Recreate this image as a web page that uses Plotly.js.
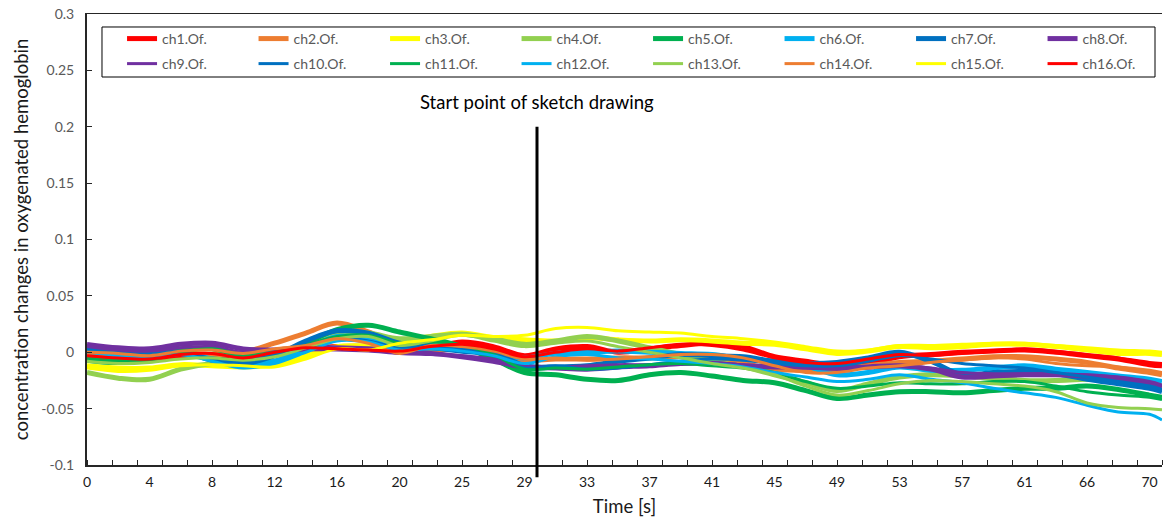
<!DOCTYPE html>
<html>
<head>
<meta charset="utf-8">
<script src="https://cdn.plot.ly/plotly-3.0.1.min.js"></script>
<style>html,body{margin:0;padding:0;background:#fff;}#chart{width:1163px;height:517px;}</style>
</head>
<body>
<div id="chart"></div>
<script>
// sample positions (category index of the Excel time axis; 0..86)
const sampleIdx = [0,2.5,5,7.5,10,12.5,15,17.5,20,22.5,25,27.5,30,32.5,35,37.5,40,42.5,45,47.5,50,52.5,55,57.5,60,62.5,65,67.5,70,72.5,75,77.5,80,82.5,85,86];
// category tick labels (seconds)
const tickIdx = [0,5,10,15,20,25,30,35,40,45,50,55,60,65,70,75,80,85];
const tickLabels = ['0','4','8','12','16','20','25','29','33','37','41','45','49','53','57','61','66','70'];
const sketchStartIdx = 36;
const sketchLabel = 'Start point of sketch drawing';

const yTickVals = [-0.1,-0.05,0,0.05,0.1,0.15,0.2,0.25,0.3];
const yTickText = ['-0.1','-0.05','0','0.05','0.1','0.15','0.2','0.25','0.3'];

const names = ['ch1.Of.','ch2.Of.','ch3.Of.','ch4.Of.','ch5.Of.','ch6.Of.','ch7.Of.','ch8.Of.',
               'ch9.Of.','ch10.Of.','ch11.Of.','ch12.Of.','ch13.Of.','ch14.Of.','ch15.Of.','ch16.Of.'];
const colors = ['#FF0000','#ED7D31','#FFFF00','#92D050','#00B050','#00B0F0','#0070C0','#7030A0',
                '#7030A0','#0070C0','#00B050','#00B0F0','#92D050','#ED7D31','#FFFF00','#FF0000'];

// values in units of 0.001
const ch1  = [-5,-7,-7,-3,-4,-8,-3,3,5,5,0,4,9,5,-3,3,5,0,3,6,8,5,-4,-8,-12,-10,-4,-2,0,1,2,0,-3,-6,-11,-12];
const ch2  = [-2,-3,-1,0,-2,0,8,17,26,18,6,0,5,-3,-7,-6,-6,-5,-5,-4,-6,-10,-15,-16,-15,-12,-9,-8,-6,-4,-4,-6,-9,-14,-18,-20];
const ch3  = [-12,-14,-14,-11,-12,-13,-11,-3,5,6,9,14,17,13,11,10,13,11,10,11,10,8,7,3,-1,1,5,4,5,7,7,5,2,-1,-1,-2];
const ch4  = [-18,-23,-24,-15,-10,-9,-8,3,17,17,12,14,16,12,7,10,14,10,4,-2,-8,-13,-20,-27,-34,-28,-22,-20,-21,-23,-25,-25,-24,-25,-28,-30];
const ch5  = [-7,-9,-4,3,3,-3,-2,8,20,24,18,12,5,-6,-18,-20,-24,-25,-20,-18,-21,-25,-27,-34,-41,-38,-35,-35,-36,-34,-32,-32,-30,-33,-38,-40];
const ch6  = [2,-2,-4,-1,-6,-12,-8,3,14,12,5,4,3,-1,-5,-1,0,1,0,-1,-2,-6,-8,-12,-20,-18,-13,-16,-16,-14,-12,-15,-18,-21,-24,-26];
const ch7  = [3,1,-2,0,-7,-10,-3,10,19,17,8,6,2,0,-12,-13,-12,-8,-5,-2,-3,-4,-8,-10,-9,-5,0,-8,-20,-18,-17,-19,-24,-28,-32,-35];
const ch8  = [7,4,3,7,8,3,2,4,4,3,1,-1,-4,-8,-13,-14,-15,-13,-12,-10,-10,-12,-13,-13,-14,-13,-12,-15,-22,-21,-20,-20,-21,-23,-28,-31];
const ch9  = [5,2,1,4,5,0,1,2,2,1,-1,-2,-3,-6,-12,-13,-12,-11,-11,-10,-9,-11,-12,-14,-15,-14,-12,-14,-18,-19,-19,-19,-20,-22,-26,-29];
const ch10 = [1,-1,-3,-2,-5,-7,-2,6,13,10,4,3,0,-3,-14,-12,-15,-14,-11,-8,-6,-7,-10,-12,-12,-8,-3,-6,-10,-12,-14,-18,-22,-26,-30,-33];
const ch11 = [-4,-6,-7,0,3,-2,0,6,14,15,8,9,6,-2,-15,-14,-15,-13,-11,-10,-12,-14,-18,-26,-32,-30,-27,-28,-28,-26,-26,-30,-35,-38,-40,-42];
const ch12 = [0,-3,-5,-2,-8,-14,-10,0,10,9,2,3,1,-3,-10,-4,-2,-5,-6,-8,-10,-13,-18,-22,-26,-24,-20,-24,-27,-32,-36,-40,-47,-53,-55,-60];
const ch13 = [-8,-10,-9,-6,-5,-7,-4,4,12,14,6,10,15,10,5,8,10,5,0,-5,-10,-14,-20,-30,-38,-34,-28,-25,-26,-28,-30,-35,-45,-49,-50,-51];
const ch14 = [0,-1,-3,1,2,-1,3,6,12,8,-1,6,5,1,-6,-5,-7,-6,-4,-2,-2,-5,-12,-18,-18,-14,-12,-9,-7,-5,-6,-10,-12,-13,-16,-18];
const ch15 = [-14,-17,-16,-12,-11,-12,-13,-6,3,2,8,11,15,14,15,21,22,19,18,17,14,12,9,5,1,2,6,6,7,8,8,6,4,2,1,0];
const ch16 = [-3,-5,-6,-2,-1,-5,0,4,3,2,1,5,7,3,-4,0,3,1,4,7,6,2,-5,-9,-10,-6,-2,-3,-1,1,3,1,-2,-5,-9,-10];

const series = [ch1,ch2,ch3,ch4,ch5,ch6,ch7,ch8,ch9,ch10,ch11,ch12,ch13,ch14,ch15,ch16];
const widths = [5,5,5,5,5,5,5,5,3,3,3,3,3,3,3,3];

const traces = series.map((s,i)=>{
  const t = {
    type:'scatter', mode:'lines', name:names[i],
    x: sampleIdx, y: s.map(v=>v/1000),
    line:{color:colors[i], width:widths[i], shape:'spline', smoothing:1.0},
    hoverinfo:'skip',
    legend: i < 8 ? 'legend' : 'legend2'
  };
  if (i === 7 || i === 15) t.legendwidth = 60;
  return t;
});

const font = 'Lato, "Open Sans", sans-serif';
const legendBase = {
  orientation:'h', xanchor:'left', yanchor:'middle',
  borderwidth:0, bgcolor:'rgba(0,0,0,0)',
  entrywidth:86.5, entrywidthmode:'pixels',
  font:{family:font, size:14, color:'#595959'},
  traceorder:'normal'
};
const layout = {
  width:1163, height:517,
  margin:{l:87, r:1, t:14, b:52},
  paper_bgcolor:'#fff', plot_bgcolor:'#fff',
  font:{family:font, size:14, color:'#595959'},
  showlegend:true,
  legend: Object.assign({}, legendBase, {x:0.0326, y:0.9446}),
  legend2: Object.assign({}, legendBase, {x:0.0326, y:0.8891}),
  xaxis:{
    range:[0,86], showgrid:false, zeroline:false,
    showline:true, linecolor:'#262626', linewidth:1.5, mirror:true,
    tickmode:'array', tickvals:tickIdx, ticktext:tickLabels,
    ticks:'outside', ticklen:0, ticklabelstandoff:4,
    tickfont:{family:font, size:14, color:'#1a1a1a'},
    minor:{ticks:'inside', tick0:0, dtick:2, ticklen:5, tickwidth:1, tickcolor:'#262626', showgrid:false},
    title:{text:'Time [s]', font:{family:font, size:18.5, color:'#1a1a1a'}, standoff:12},
    fixedrange:true
  },
  yaxis:{
    range:[-0.1,0.3], showgrid:false, zeroline:false,
    showline:true, linecolor:'#262626', linewidth:2,
    tickmode:'array', tickvals:yTickVals, ticktext:yTickText,
    ticks:'inside', ticklen:5, tickwidth:1, tickcolor:'#262626', ticklabelstandoff:8,
    tickfont:{family:font, size:14, color:'#595959'},
    title:{text:'concentration changes in oxygenated hemoglobin', font:{family:font, size:18.5, color:'#1a1a1a'}, standoff:8},
    fixedrange:true
  },
  shapes:[
    {type:'line', xref:'x', yref:'paper',
     x0:sketchStartIdx, x1:sketchStartIdx, y0:-0.027, y1:0.75,
     line:{color:'#000', width:3}},
    {type:'rect', xref:'paper', yref:'paper',
     x0:0.01395, x1:0.99349, y0:0.8603, y1:0.9712,
     line:{color:'#000', width:1}, fillcolor:'rgba(0,0,0,0)', layer:'above'}
  ],
  annotations:[{
    text:sketchLabel, xref:'x', yref:'paper', x:sketchStartIdx, y:0.805,
    xanchor:'center', yanchor:'middle', showarrow:false,
    font:{family:font, size:18.5, color:'#000'}
  }]
};

Plotly.newPlot('chart', traces, layout, {displayModeBar:false, staticPlot:true});
</script>
</body>
</html>
